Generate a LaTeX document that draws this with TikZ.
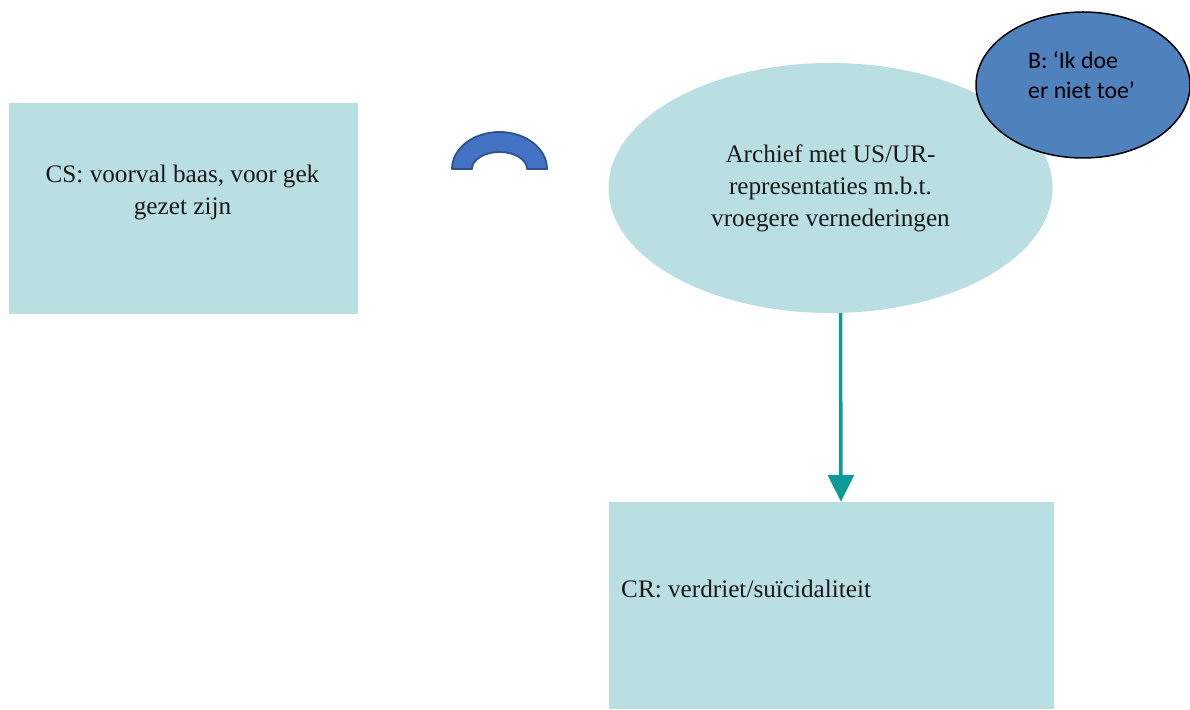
\documentclass[tikz,border=0pt]{standalone}
\usepackage{fontspec}
\setmainfont{Liberation Serif}
\newfontfamily\calfam{Carlito}
\usetikzlibrary{shapes.geometric,arrows.meta}
\definecolor{paleteal}{RGB}{186,223,227}
\definecolor{flowteal}{RGB}{14,155,152}
\definecolor{bubbleblue}{RGB}{79,129,189}
\definecolor{arcblue}{RGB}{68,114,196}
\definecolor{arcedge}{RGB}{47,82,143}
\begin{document}
\begin{tikzpicture}[x=1pt,y=1pt,
  box/.style={rectangle, fill=paleteal, draw=none, inner sep=0pt},
  serifText/.style={font=\fontsize{25.2}{32}\selectfont, text=black!90, inner sep=0pt},
  bubble/.style={ellipse, fill=bubbleblue, draw=black, line width=1.5pt, inner sep=0pt},
  archive/.style={ellipse, fill=paleteal, draw=none, inner sep=0pt, align=center},
  flow/.style={draw=flowteal, line width=3.5pt, -{Triangle[length=27pt,width=26pt]}},
  blockarc/.style={fill=arcblue, draw=arcedge, line width=1.8pt, line join=round}
]
\useasboundingbox (0,0) rectangle (1190,709);

% conditioned stimulus
\node[box, minimum width=349pt, minimum height=211pt] (cs) at (183.5,500.5) {};
\node[serifText, align=center] (cstext) at (182.5,517) {CS: voorval baas, voor gek\\gezet zijn};

% blocking arc
\draw[blockarc] (452,540) arc[start angle=180,end angle=0,x radius=47.5,y radius=37]
  -- (527,540) arc[start angle=0,end angle=180,x radius=27.5,y radius=17] -- cycle;

% archive of representations
\node[archive, minimum width=444pt, minimum height=250pt, serifText, align=center] (arch) at (830.5,521)
  {Archief met US/UR-\\representaties m.b.t.\\vroegere vernederingen};

% behaviour bubble
\node[bubble, minimum width=214pt, minimum height=146pt] (beh) at (1083,624) {};
\node[font=\calfam\fontsize{23.8}{30}\selectfont, align=left, anchor=west, inner sep=0pt] (behtext) at (1028,634)
  {B: ‘Ik doe\\er niet toe’};

% conditioned response
\node[box, minimum width=445pt, minimum height=207pt] (cr) at (831.5,103.5) {};
\node[serifText, anchor=base west] (crtext) at (621,111) {CR: verdriet/suïcidaliteit};

\draw[flow] ([xshift=10pt]arch.south) -- ([xshift=9.5pt]cr.north);
\end{tikzpicture}
\end{document}
